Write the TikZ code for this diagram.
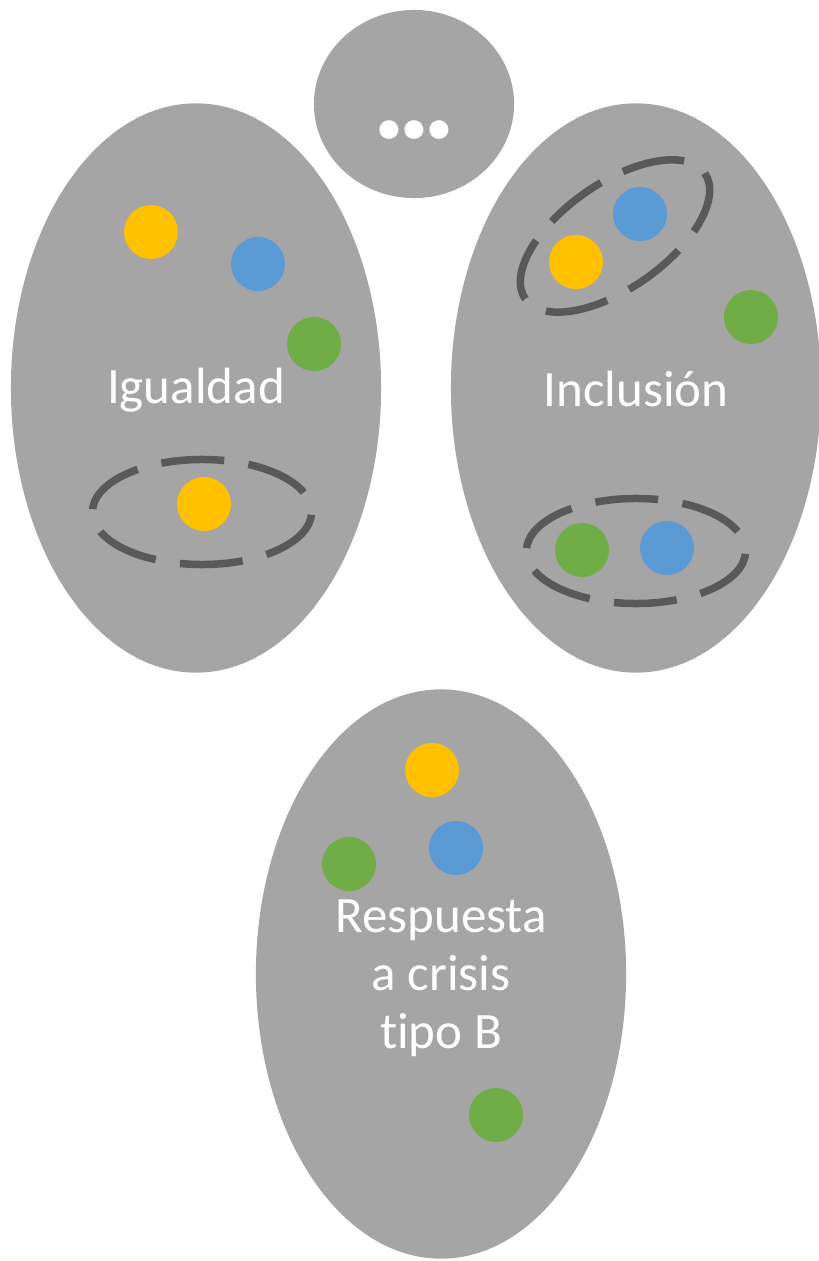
\documentclass[tikz,border=0pt]{standalone}
\usepackage{fontspec}
\setmainfont[Ligatures=NoCommon]{Carlito}
\usetikzlibrary{shapes.geometric}

\definecolor{blobgray}{HTML}{A5A5A5}
\definecolor{ringgray}{HTML}{595959}
\definecolor{dotyellow}{HTML}{FFC000}
\definecolor{dotblue}{HTML}{5B9BD5}
\definecolor{dotgreen}{HTML}{70AD47}

\begin{document}
\begin{tikzpicture}[x=0.01cm,y=-0.01cm,
		blob/.style={ellipse,fill=blobgray,inner sep=0pt,minimum width=3.7cm,minimum height=5.69cm},
		ring/.style={ellipse,draw=ringgray,line width=0.075cm,dash pattern=on 0.63cm off 0.245cm,dash phase=0.66cm,inner sep=0pt,minimum width=2.19cm,minimum height=1.05cm},
		dot/.style={circle,inner sep=0pt,minimum size=0.54cm},
		blobtext/.style={text=white,align=center,font=\fontsize{14.5}{16.5}\selectfont}]
		\useasboundingbox (0,0) rectangle (819,1261);

		% the four groups
		\node at (414,104) [blob,minimum width=2cm,minimum height=1.88cm] (more) {};
		\node at (196,388) [blob] (equality) {};
		\node at (636,388) [blob] (inclusion) {};
		\node at (441,974) [blob] (crisis) {};

		\node at (414,130) [blobtext,font=\fontsize{36}{36}\selectfont\bfseries] (moreText) {.\kern-0.07em.\kern-0.07em.};
		\node at (196,390) [blobtext] (equalityText) {Igualdad};
		\node at (636,389) [blobtext] (inclusionText) {Inclusión};
		\node at (441,978) [blobtext] (crisisText) {Respuesta\\a crisis\\tipo B};

		% Igualdad
		\node at (151,232) [dot,fill=dotyellow] (eqYellow) {};
		\node at (258,264) [dot,fill=dotblue] (eqBlue) {};
		\node at (314,344) [dot,fill=dotgreen] (eqGreen) {};
		\node at (202,512) [ring] (eqRing) {};
		\node at (204,504) [dot,fill=dotyellow] (eqRingYellow) {};

		% Inclusion
		\node at (615,236) [ring,rotate=35,dash phase=0.63cm] (incRingTop) {};
		\node at (640,214) [dot,fill=dotblue] (incBlue) {};
		\node at (576,262) [dot,fill=dotyellow] (incYellow) {};
		\node at (751,317) [dot,fill=dotgreen] (incGreen) {};
		\node at (636,551) [ring] (incRingBottom) {};
		\node at (582,550) [dot,fill=dotgreen] (incRingGreen) {};
		\node at (667,548) [dot,fill=dotblue] (incRingBlue) {};

		% Respuesta a crisis tipo B
		\node at (432,770) [dot,fill=dotyellow] (crYellow) {};
		\node at (456,848) [dot,fill=dotblue] (crBlue) {};
		\node at (349,864) [dot,fill=dotgreen] (crGreen) {};
		\node at (496,1115) [dot,fill=dotgreen] (crGreenLow) {};
	\end{tikzpicture}
\end{document}
